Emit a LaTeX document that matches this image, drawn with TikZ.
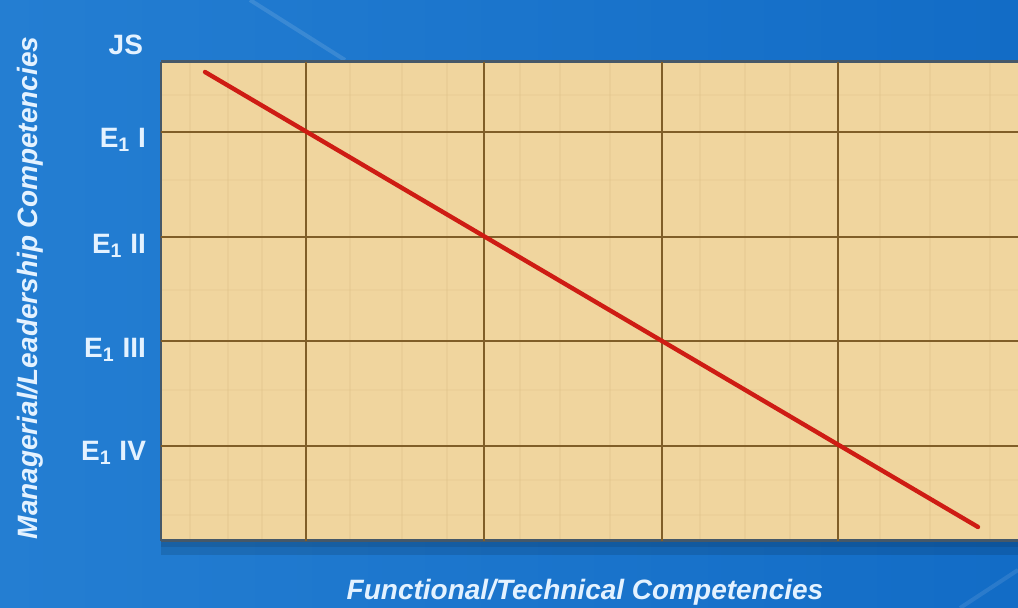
\documentclass[tikz,border=0pt]{standalone}
\usepackage{fontspec}
\setmainfont{Liberation Sans}
\usetikzlibrary{positioning}

\definecolor{bgblue}{RGB}{18,108,198}
\definecolor{bgbluelight}{RGB}{36,126,210}
\definecolor{parch}{RGB}{240,213,158}
\definecolor{parchdark}{RGB}{222,192,135}
\definecolor{gridbrown}{RGB}{128,94,40}
\definecolor{edgegray}{RGB}{70,88,104}
\definecolor{linered}{RGB}{206,28,20}
\definecolor{labwhite}{RGB}{228,242,255}

\begin{document}
\begin{tikzpicture}[x=0.5pt, y=-0.5pt,
    levellabel/.style={anchor=east, text=labwhite, font=\fontsize{14}{16}\selectfont\bfseries},
    axistitle/.style={text=labwhite, font=\fontsize{14}{16}\selectfont\bfseries\itshape},
    gridline/.style={gridbrown, line width=1pt}]
    \def\xmin{161}
    \def\xmax{1018}
    \def\ymin{62}
    \def\ymax{541}

    \useasboundingbox (0,0) rectangle (1018,608);
    \shade[left color=bgbluelight, right color=bgblue] (0,0) rectangle (1018,608);
    \draw[white, opacity=0.12, line width=2pt] (250,0) -- (345,60);
    \draw[white, opacity=0.10, line width=2pt] (960,608) -- (1018,570);

    % shadow and board
    \fill[black, opacity=0.12] (\xmin,\ymax) rectangle (\xmax,\ymax+14);
    \fill[black, opacity=0.10] (\xmin,\ymax) rectangle (\xmax,\ymax+6);
    \fill[parch] (\xmin,\ymin) rectangle (\xmax,\ymax);
    \foreach \sx in {190,228,262,350,402,447,520,560,610,700,745,790,880,930,990} {
        \draw[parchdark, opacity=0.3, line width=0.8pt] (\sx,\ymin) -- (\sx,\ymax);
    }
    \foreach \sy in {95,180,290,390,480,515} {
        \draw[parchdark, opacity=0.2, line width=0.8pt] (\xmin,\sy) -- (\xmax,\sy);
    }
    \draw[edgegray, line width=1.5pt] (\xmin,\ymin) -- (\xmax,\ymin);
    \draw[edgegray, line width=1.5pt] (\xmin,\ymax) -- (\xmax,\ymax);
    \draw[edgegray, line width=1pt] (\xmin,\ymin) -- (\xmin,\ymax);

    \foreach \gx in {306, 484, 662, 838} {
        \draw[gridline] (\gx,\ymin) -- (\gx,\ymax);
    }
    \foreach \gy in {132, 237, 341, 446} {
        \draw[gridline] (\xmin,\gy) -- (\xmax,\gy);
    }

    \coordinate (start) at (205,72);
    \coordinate (finish) at (978,527);
    \draw[linered, line width=2.2pt, line cap=round] (start) -- (finish);

    \node[levellabel] (lvljs) at (150,45) {JS};
    \foreach \nm/\lbl/\ypos in {lvla/I/140, lvlb/II/246, lvlc/III/350, lvld/IV/453} {
        \node[levellabel] (\nm) at (153,\ypos) {E\textsubscript{1} \lbl};
    }

    \node[axistitle] (xtitle) at (585,592) {Functional/Technical Competencies};
    \node[axistitle, rotate=90] (ytitle) at (30,288) {Managerial/Leadership Competencies};
\end{tikzpicture}
\end{document}
